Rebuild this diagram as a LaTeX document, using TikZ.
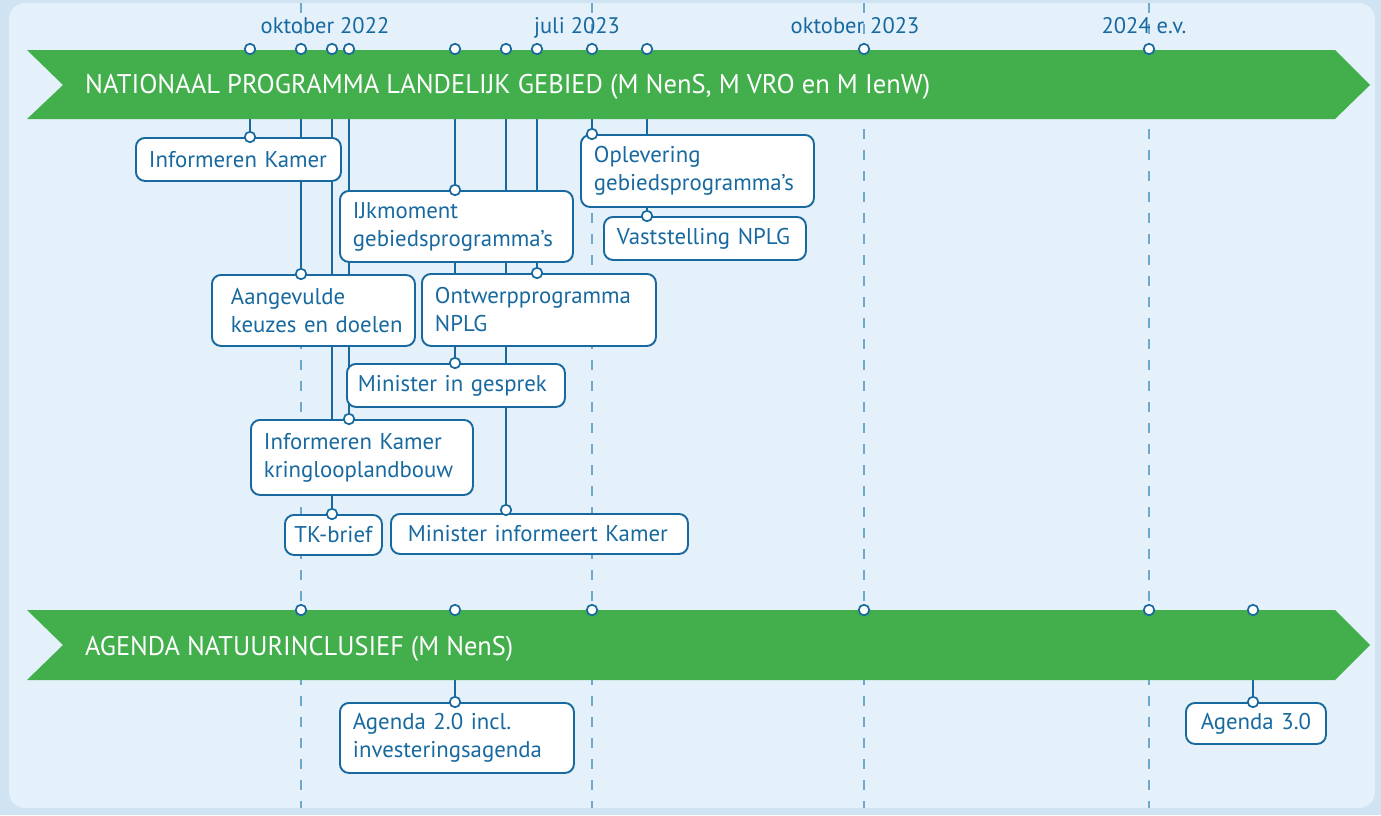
\documentclass[tikz,border=0pt]{standalone}
\usepackage{fontspec}
\setmainfont{PT Sans}
\definecolor{outerbg}{HTML}{CFE3F3}
\definecolor{innerbg}{HTML}{E4F1FA}
\definecolor{grn}{HTML}{43AE4C}
\definecolor{dblue}{HTML}{17699F}
\definecolor{dashc}{HTML}{6FA8CE}
\newcommand{\boxln}[1]{\mbox{#1}}
\begin{document}
\begin{tikzpicture}[x=1pt,y=-1pt,
  box/.style={draw=dblue, line width=1.9pt, fill=white, rounded corners=9pt, anchor=north west,
    align=left, inner xsep=13pt, inner ysep=0pt, text=dblue, font=\fontsize{22.8}{28}\selectfont},
  mk/.style={circle, draw=dblue, fill=white, line width=1.7pt, inner sep=0pt, minimum size=10.5pt},
  conn/.style={draw=dblue, line width=2pt},
  guide/.style={draw=dashc, line width=2.5pt, dash pattern=on 10pt off 11pt},
  banner/.style={fill=grn},
  bantext/.style={text=white, anchor=base west, inner sep=0pt, font=\fontsize{27}{30}\selectfont},
  datelbl/.style={text=dblue, anchor=base, inner sep=0pt, font=\fontsize{22.5}{26}\selectfont}]
\useasboundingbox (0,0) rectangle (1381,815);
\fill[outerbg] (0,0) rectangle (1381,815);
\fill[innerbg, rounded corners=16pt] (9,3) rectangle (1375,808);

% guide lines
\foreach \gx/\gn in {301/ga,592/gb,864/gc,1149/gd}{
  \coordinate (\gn top) at (\gx,3);
  \coordinate (\gn bot) at (\gx,808);
  \draw[guide] (\gn top) -- (\gn bot);
}

% date labels
\node[datelbl] (d1) at (325,33) {oktober 2022};
\node[datelbl] (d2) at (577,33) {juli 2023};
\node[datelbl] (d3) at (855,33) {oktober 2023};
\node[datelbl] (d4) at (1144,33) {2024 e.v.};

% marker coordinates top banner
\coordinate (t1) at (250,49);
\coordinate (t2) at (301,49);
\coordinate (t3) at (332,49);
\coordinate (t4) at (349,49);
\coordinate (t5) at (455,49);
\coordinate (t6) at (506,49);
\coordinate (t7) at (537,49);
\coordinate (t8) at (592,49);
\coordinate (t9) at (647,49);
\coordinate (t10) at (864,49);
\coordinate (t11) at (1149,49);
% bottom banner
\coordinate (u1) at (301,610);
\coordinate (u2) at (455,610);
\coordinate (u3) at (592,610);
\coordinate (u4) at (864,610);
\coordinate (u5) at (1149,610);
\coordinate (u6) at (1253,610);
% box marker coordinates
\coordinate (c1) at (250,137);
\coordinate (c2) at (592,134);
\coordinate (c3) at (647,216);
\coordinate (c4) at (455,190);
\coordinate (c5) at (301,274);
\coordinate (c6) at (537,273);
\coordinate (c7) at (455,363);
\coordinate (c8) at (349,419);
\coordinate (c9) at (332,514);
\coordinate (c10) at (506,510);
\coordinate (c11) at (455,702);
\coordinate (c12) at (1253,702);

% connectors
\draw[conn] (t1) -- (c1);
\draw[conn] (t2) -- (c5);
\draw[conn] (t3) -- (c9);
\draw[conn] (t4) -- (c8);
\draw[conn] (t5) -- (c4);
\draw[conn] (c4) -- (c7);
\draw[conn] (t6) -- (c10);
\draw[conn] (t7) -- (c6);
\draw[conn] (t8) -- (c2);
\draw[conn] (t9) -- (c3);
\draw[conn] (u2) -- (c11);
\draw[conn] (u6) -- (c12);

% banners
\fill[banner] (27,50) -- (1335,50) -- (1370,85) -- (1335,119) -- (27,119) -- (63,85) -- cycle;
\fill[banner] (27,610) -- (1335,610) -- (1370,645) -- (1335,680) -- (27,680) -- (63,645) -- cycle;
\node[bantext] (b1) at (85,93) {\resizebox{845pt}{\height}{NATIONAAL PROGRAMMA LANDELIJK GEBIED (M NenS, M VRO en M IenW)}};
\node[bantext] (b2) at (85,655) {\resizebox{428pt}{\height}{AGENDA NATUURINCLUSIEF (M NenS)}};

% boxes
\node[box, minimum width=205pt, minimum height=43pt, text width=179pt] (n1) at (135,137) {\boxln{Informeren Kamer}};
\node[box, minimum width=233pt, minimum height=72pt, text width=207pt] (n2) at (580,134) {\boxln{Oplevering}\\\boxln{gebiedsprogramma’s}};
\node[box, minimum width=202pt, minimum height=43pt, text width=176pt] (n3) at (603,216) {\boxln{Vaststelling NPLG}};
\node[box, minimum width=233pt, minimum height=71pt, text width=207pt] (n4) at (339,190) {\boxln{IJkmoment}\\\boxln{gebiedsprogramma’s}};
\node[box, minimum width=203pt, minimum height=71pt, text width=165pt, inner xsep=19pt] (n5) at (211,274) {\boxln{Aangevulde}\\\boxln{keuzes en doelen}};
\node[box, minimum width=234pt, minimum height=72pt, text width=208pt] (n6) at (421,273) {\boxln{Ontwerpprogramma}\\\boxln{NPLG}};
\node[box, minimum width=218pt, minimum height=43pt, text width=196pt, inner xsep=11pt] (n7) at (346,363) {\boxln{Minister in gesprek}};
\node[box, minimum width=222pt, minimum height=75pt, text width=196pt] (n8) at (250,419) {\boxln{Informeren Kamer}\\\boxln{kringlooplandbouw}};
\node[box, minimum width=97pt, minimum height=40pt, text width=83pt, inner xsep=7pt, align=center] (n9) at (284,514) {\boxln{TK-brief}};
\node[box, minimum width=297pt, minimum height=40pt, text width=263pt, inner xsep=17pt] (n10) at (390,513) {\boxln{Minister informeert Kamer}};
\node[box, minimum width=234pt, minimum height=70pt, text width=208pt] (n11) at (339,702) {\boxln{Agenda 2.0 incl.}\\\boxln{investeringsagenda}};
\node[box, minimum width=140pt, minimum height=41pt, text width=114pt, align=center] (n12) at (1185,702) {\boxln{Agenda 3.0}};

% markers
\foreach \m in {t1,t2,t3,t4,t5,t6,t7,t8,t9,t10,t11,u1,u2,u3,u4,u5,u6,c1,c2,c3,c4,c5,c6,c7,c8,c9,c10,c11,c12}{
  \node[mk] (m\m) at (\m) {};
}
\end{tikzpicture}
\end{document}
